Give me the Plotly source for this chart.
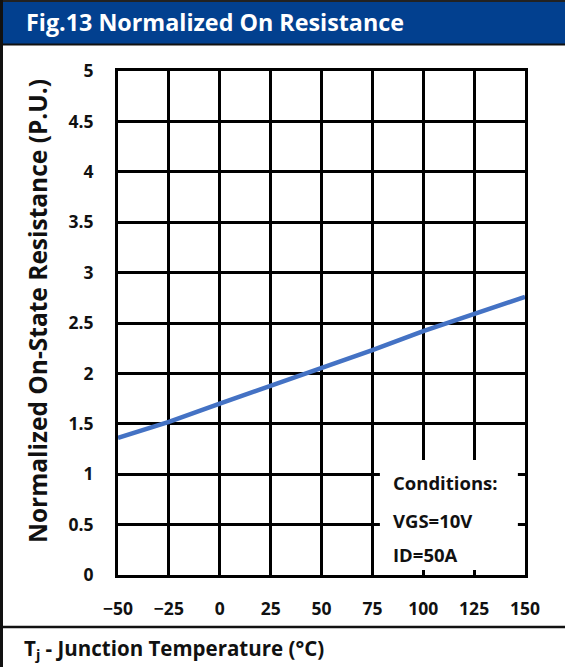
import plotly.graph_objects as go

# Normalized on-state resistance vs junction temperature
temps_c = [-50, -25, 0, 25, 50, 75, 100, 125, 150]
r_norm = [1.36, 1.52, 1.70, 1.875, 2.05, 2.23, 2.42, 2.59, 2.76]

x_ticks = [-50, -25, 0, 25, 50, 75, 100, 125, 150]
y_ticks = [0, 0.5, 1, 1.5, 2, 2.5, 3, 3.5, 4, 4.5, 5]
y_tick_text = ["0", "0.5", "1", "1.5", "2", "2.5", "3", "3.5", "4", "4.5", "5"]

title_text = "Fig.13 Normalized On Resistance"
y_title = "Normalized On-State Resistance (P.U.)"
x_title = "T<sub>j</sub> - Junction Temperature (°C)"
conditions = ["Conditions:", "VGS=10V", "ID=50A"]

W, H = 565, 667
L, R, T, B = 118, 525, 71, 575
HEADER_BLUE = "#02408f"
INK = "#111111"
FONT = "Open Sans"


def px(xp):
    return (xp - L) / (R - L)


def py(yp):
    return (B - yp) / (B - T)


fig = go.Figure()
fig.add_trace(go.Scatter(
    x=temps_c, y=r_norm, mode="lines",
    line=dict(color="#4472c4", width=4.5),
    hoverinfo="skip", showlegend=False,
))

axis_common = dict(
    showgrid=True, gridcolor="black", gridwidth=2.5,
    showline=True, linecolor="black", linewidth=3, mirror=True,
    zeroline=False, ticks="", fixedrange=True,
    tickfont=dict(family=FONT, size=17.5, color=INK, weight="bold"),
)

fig.update_xaxes(range=[-50, 150], tickvals=x_ticks,
                 ticklabelstandoff=16, **axis_common)
fig.update_yaxes(range=[0, 5], tickvals=y_ticks, ticktext=y_tick_text,
                 ticklabelstandoff=18, **axis_common)

shapes = [
    # header bar
    dict(type="rect", xref="paper", yref="paper",
         x0=px(0), x1=px(W), y0=py(44), y1=py(0),
         fillcolor=HEADER_BLUE, line=dict(width=0), layer="above"),
    dict(type="line", xref="paper", yref="paper",
         x0=px(0), x1=px(W), y0=py(1), y1=py(1),
         line=dict(color="#222222", width=2)),
    dict(type="line", xref="paper", yref="paper",
         x0=px(0), x1=px(W), y0=py(44.5), y1=py(44.5),
         line=dict(color="#111111", width=2)),
    # left frame edge
    dict(type="line", xref="paper", yref="paper",
         x0=px(1.5), x1=px(1.5), y0=py(0), y1=py(H),
         line=dict(color="#111111", width=3)),
    # separator above the x-axis title
    dict(type="line", xref="paper", yref="paper",
         x0=px(0), x1=px(W), y0=py(627), y1=py(627),
         line=dict(color="#111111", width=2.5)),
    # white panel behind the test conditions
    dict(type="rect", xref="x", yref="y",
         x0=78.7, x1=146.5, y0=0.05, y1=1.14,
         fillcolor="white", line=dict(width=0), layer="above"),
]

annotations = [
    dict(text=title_text, xref="paper", yref="paper",
         x=px(24), y=py(22), xanchor="left", yanchor="middle",
         showarrow=False,
         font=dict(family=FONT, size=23.3, color="white", weight="bold")),
    dict(text=y_title, xref="paper", yref="paper",
         x=px(37), y=py(311), xanchor="center", yanchor="middle",
         textangle=-90, showarrow=False,
         font=dict(family=FONT, size=24.5, color=INK, weight="bold")),
    dict(text=x_title, xref="paper", yref="paper",
         x=px(22), y=py(649), xanchor="left", yanchor="middle",
         showarrow=False,
         font=dict(family=FONT, size=20.5, color=INK, weight="bold")),
]

for line_text, yc in zip(conditions, [482, 520, 554]):
    annotations.append(dict(
        text=line_text, xref="paper", yref="paper",
        x=px(391), y=py(yc), xanchor="left", yanchor="middle",
        showarrow=False,
        font=dict(family=FONT, size=18.5, color=INK, weight="bold")))

fig.update_layout(
    width=W, height=H,
    margin=dict(l=L, r=W - R, t=T, b=H - B),
    paper_bgcolor="white", plot_bgcolor="white",
    shapes=shapes, annotations=annotations,
    showlegend=False,
)

fig.write_html("out.html", config={"displayModeBar": False})
